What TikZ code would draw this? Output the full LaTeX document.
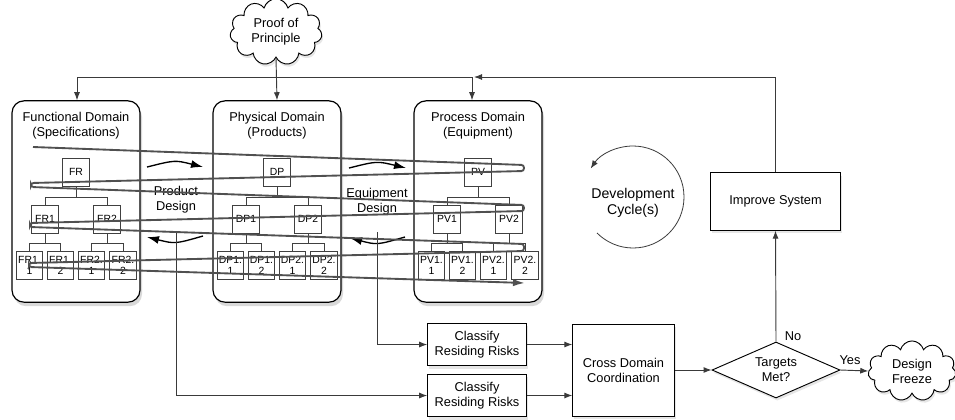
\documentclass[tikz,border=0pt]{standalone}
\usepackage{fontspec}
\setmainfont{Liberation Sans}
\usepackage{tikz}
\usetikzlibrary{arrows.meta}
\usetikzlibrary{shapes.geometric,shapes.symbols}
\usetikzlibrary{shadows}
\usetikzlibrary{calc}

\definecolor{linegray}{HTML}{3A3A3A}
\definecolor{zaggray}{HTML}{505050}

\tikzset{
  dombox/.style={draw=black, line width=0.9pt, rounded corners=9pt, fill=white,
    minimum width=96pt, minimum height=151pt,
    drop shadow={shadow xshift=1.5pt, shadow yshift=-3pt, opacity=0.3}},
  domtitle/.style={align=center, font=\fontsize{9.6}{11.3}\selectfont},
  treebox/.style={draw=black!75, line width=0.6pt, fill=white, minimum width=20pt,
    minimum height=21pt, inner sep=0.5pt, align=center,
    font=\fontsize{7.8}{8.3}\selectfont},
  tline/.style={draw=black!75, line width=0.6pt},
  procbox/.style={draw=black, line width=0.7pt, fill=white, align=center,
    font=\fontsize{9.6}{11.3}\selectfont,
    drop shadow={shadow xshift=1pt, shadow yshift=-2pt, opacity=0.2}},
  puff/.style={cloud, cloud puffs=11, cloud ignores aspect, draw, line width=0.7pt,
    fill=white, align=center, font=\fontsize{9.6}{11.3}\selectfont,
    drop shadow={shadow xshift=1pt, shadow yshift=-2pt, opacity=0.2}},
  flow/.style={draw=linegray, line width=0.7pt, -{Latex[length=6pt,width=4.5pt]}},
  busline/.style={draw=linegray, line width=0.7pt},
  bendarrow/.style={line width=1pt, -{Latex[length=9pt,width=6pt]}},
  zag/.style={draw=zaggray, line width=1.4pt, rounded corners=2pt,
    -{Latex[length=9pt,width=5.5pt]}}
}

% one decomposition tree: #1 name, #2 text, #3 x of the top box
\newcommand{\domtree}[3]{%
  \node[treebox] (#1) at (#3,172) {#2};
  \node[treebox] (#11) at ({#3-31},219) {#21};
  \node[treebox] (#12) at ({#3+31},219) {#22};
  \node[treebox] (#111) at ({#3-46.5},265) {#21.\\1};
  \node[treebox] (#112) at ({#3-15.5},265) {#21.\\2};
  \node[treebox] (#121) at ({#3+15.5},265) {#22.\\1};
  \node[treebox] (#122) at ({#3+47},265) {#22.\\2};
  \draw[tline] (#1.south) -- ++(0,11) -| (#11.north);
  \draw[tline] (#1.south) -- ++(0,11) -| (#12.north);
  \draw[tline] (#11.south) -- ++(0,10) -| (#111.north);
  \draw[tline] (#11.south) -- ++(0,10) -| (#112.north);
  \draw[tline] (#12.south) -- ++(0,10) -| (#121.north);
  \draw[tline] (#12.south) -- ++(0,10) -| (#122.north);
}

\begin{document}
\begin{tikzpicture}[x=0.75pt,y=-0.75pt]
\useasboundingbox (0,0) rectangle (955,419);

       \node[puff, minimum width=69pt, minimum height=40pt] (proof) at (276,32) {Proof of\\Principle};

       \node[dombox] (fun) at (76,201.5) {};
       \node[dombox] (phys) at (277,201.5) {};
       \node[dombox] (proc) at (478,201.5) {};

       \node[domtitle] (funt) at (76,126) {Functional Domain\\(Specifications)};
       \node[domtitle] (physt) at (277,126) {Physical Domain\\(Products)};
       \node[domtitle] (proct) at (478,126) {Process Domain\\(Equipment)};

       \domtree{fr}{FR}{76}
       \domtree{dp}{DP}{277}
       \domtree{pv}{PV}{478}

       \coordinate (busL) at (77,77);
       \coordinate (busR) at (472,77);
       \draw[busline] (busL) -- (busR);
       \draw[flow] (busL) -- (busL |- fun.north);
       \draw[flow] (busR) -- (busR |- proc.north);
       \draw[flow] (proof.south) -- (phys.north);

       \node[domtitle] (pdes) at (176,200) {Product\\Design};
       \node[domtitle] (edes) at (377,202) {Equipment\\Design};

       \draw[bendarrow] (147,167) .. controls (175,160) .. (203,167);
       \draw[bendarrow] (349,168) .. controls (377,161) .. (406,168);
       \draw[bendarrow] (203,236) .. controls (175,244) .. (147,237);
       \draw[bendarrow] (405,237) .. controls (377,245) .. (350,238);

       \node[procbox, minimum width=74pt, minimum height=32pt] (cls1) at (477,344.5) {Classify\\Residing Risks};
       \node[procbox, minimum width=74pt, minimum height=32pt] (cls2) at (477,395.5) {Classify\\Residing Risks};
       \node[procbox, minimum width=76pt, minimum height=69pt] (cross) at (623.5,370) {Cross Domain\\Coordination};
       \node[procbox, diamond, aspect=2.3, inner sep=0pt, minimum width=96pt, minimum height=42pt] (tgt) at (776,370) {Targets\\Met?};
       \node[procbox, minimum width=97pt, minimum height=43pt] (imp) at (775.5,201.5) {Improve System};
       \node[puff, minimum width=66pt, minimum height=33pt] (freeze) at (912,371) {Design\\Freeze};

       \draw[flow] ($(pdes.south)+(0,14)$) |- (cls2.west);
       \draw[flow] ($(edes.south)+(0,12)$) |- (cls1.west);
       \draw[flow] (cls1.east) -- (cls1.east -| cross.west);
       \draw[flow] (cls2.east) -- (cls2.east -| cross.west);
       \draw[flow] (cross.east) -- (tgt.west);
       \draw[flow] (tgt.north) -- (imp.south);
       \draw[flow] (tgt.east) -- (freeze.west);
       \draw[flow] (imp.north) |- (474,77);

       \node[domtitle] (no) at (793,336) {No};
       \node[domtitle] (yes) at (850,360) {Yes};

       \node[align=center, font=\fontsize{10.6}{12.5}\selectfont] (dev) at (633,203) {Development\\Cycle(s)};
       \draw[flow, line width=0.6pt] (597,233) .. controls (606.5,242.5) and (619.5,248) .. (633,248)
         .. controls (661.2,248) and (684,225.2) .. (684,197)
         .. controls (684,168.8) and (661.2,146) .. (633,146)
         .. controls (616,146) and (600.2,154.4) .. (590.7,168.5);

       % the zig-zag through the three domains
       \draw[zag] (33,147) -- (524,165) -- (524,171) -- (31,183) -- (31,187)
         -- (524,205) -- (524,211) -- (30,223) -- (30,227) -- (524,244)
         -- (524,251) -- (29,263) -- (29,267) -- (525,283);
\end{tikzpicture}
\end{document}
